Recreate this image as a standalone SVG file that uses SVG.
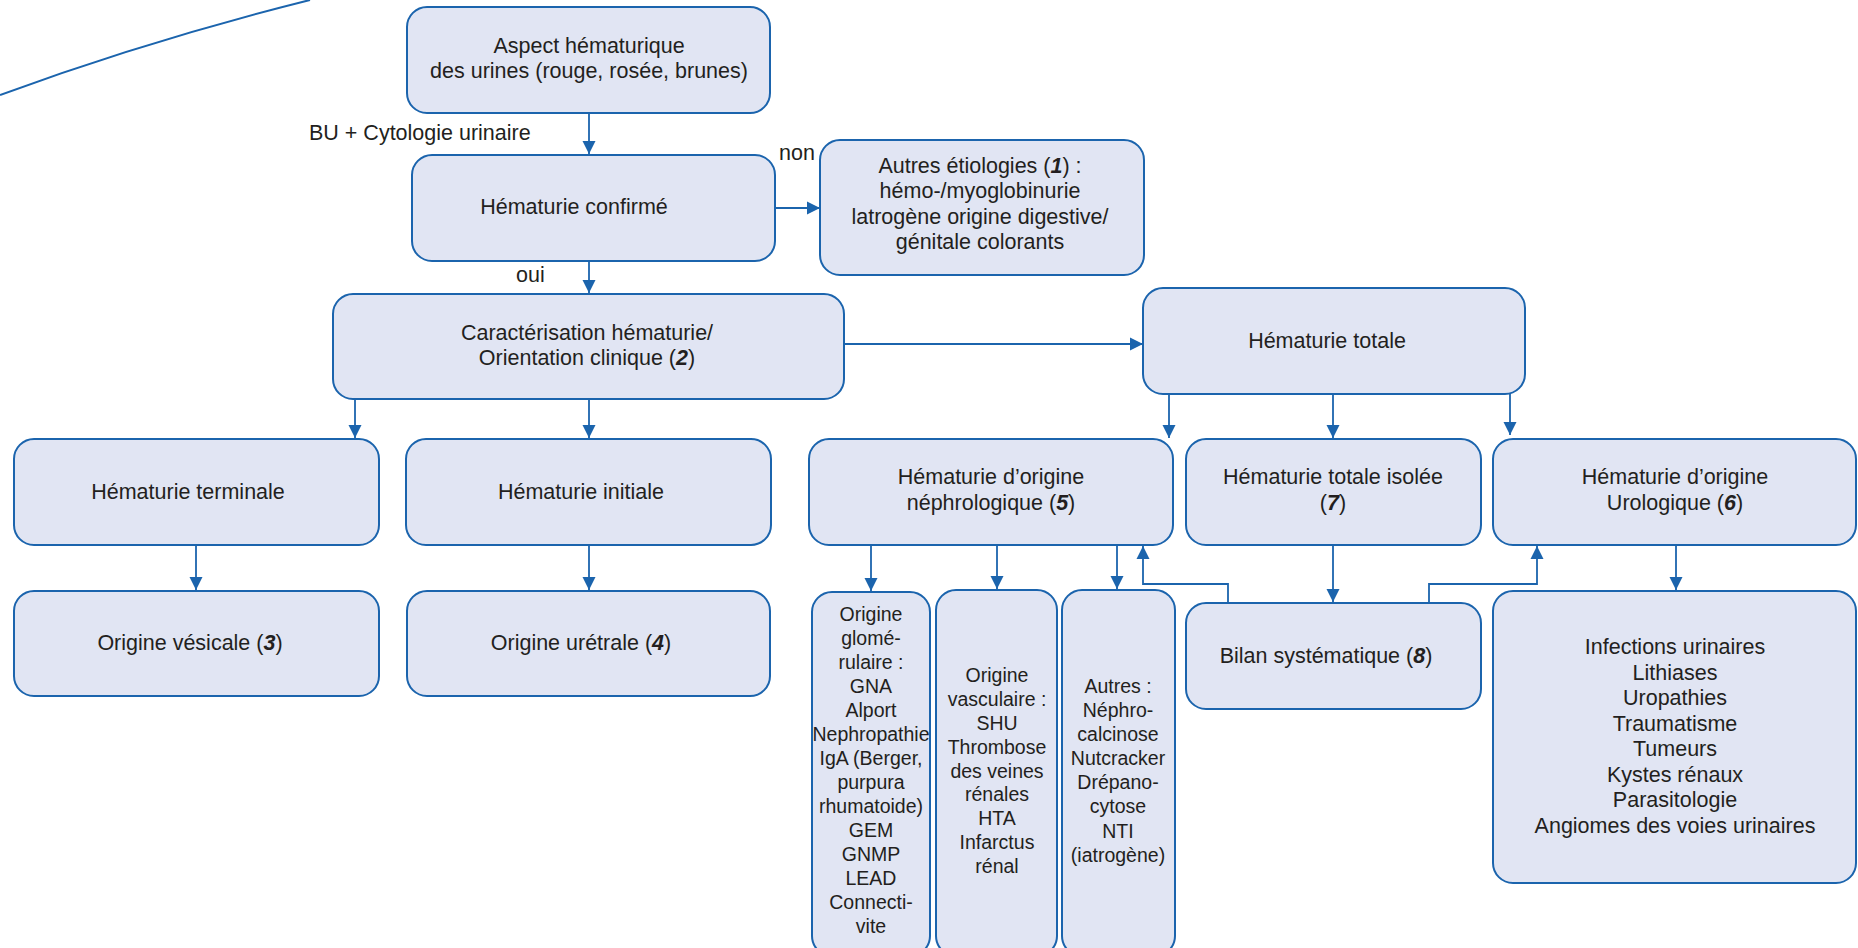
<svg xmlns="http://www.w3.org/2000/svg" width="1858" height="948" viewBox="0 0 1858 948">
  <style>
    .box { fill: #e1e5f3; stroke: #1b64ad; stroke-width: 2; }
    .t { font-family: "Liberation Sans", Arial, sans-serif; font-size: 21.5px; fill: #231f20; text-anchor: middle; }
    .s { font-family: "Liberation Sans", Arial, sans-serif; font-size: 19.5px; fill: #231f20; text-anchor: middle; }
    .lbl { font-family: "Liberation Sans", Arial, sans-serif; font-size: 21.5px; fill: #231f20; }
    .n { font-weight: bold; font-style: italic; }
    .link { fill: none; stroke: #1b64ad; stroke-width: 1.8; }
  </style>
  <defs>
    <marker id="arrow" markerUnits="userSpaceOnUse" markerWidth="14" markerHeight="14" viewBox="0 0 14 14" refX="13" refY="7" orient="auto">
      <path d="M0,0.5 L13,7 L0,13.5 Z" fill="#1b64ad"/>
    </marker>
  </defs>

  <rect width="1858" height="948" fill="#ffffff"/>

  <!-- decorative swoosh in the top-left corner -->
  <path d="M0,95 Q150,40 310,0" fill="none" stroke="#1b64ad" stroke-width="2"/>

  <!-- connectors -->
  <g id="connectors">
    <path class="link" d="M589,113 V154" marker-end="url(#arrow)"/>
    <path class="link" d="M589,261 V293" marker-end="url(#arrow)"/>
    <path class="link" d="M775,208 H820" marker-end="url(#arrow)"/>
    <path class="link" d="M844,344 H1143" marker-end="url(#arrow)"/>
    <path class="link" d="M355,399 V438" marker-end="url(#arrow)"/>
    <path class="link" d="M589,399 V438" marker-end="url(#arrow)"/>
    <path class="link" d="M1169,394 V438" marker-end="url(#arrow)"/>
    <path class="link" d="M1333,394 V438" marker-end="url(#arrow)"/>
    <path class="link" d="M1510,394 V435" marker-end="url(#arrow)"/>
    <path class="link" d="M196,545 V590" marker-end="url(#arrow)"/>
    <path class="link" d="M589,545 V590" marker-end="url(#arrow)"/>
    <path class="link" d="M871,545 V591" marker-end="url(#arrow)"/>
    <path class="link" d="M997,545 V589" marker-end="url(#arrow)"/>
    <path class="link" d="M1117,545 V589" marker-end="url(#arrow)"/>
    <path class="link" d="M1333,545 V602" marker-end="url(#arrow)"/>
    <path class="link" d="M1676,545 V590" marker-end="url(#arrow)"/>
    <path class="link" d="M1228,603 V584 H1143 V546" marker-end="url(#arrow)"/>
    <path class="link" d="M1429,603 V584 H1537 V546" marker-end="url(#arrow)"/>
  </g>

  <!-- edge labels -->
  <text class="lbl" x="309" y="140">BU + Cytologie urinaire</text>
  <text class="lbl" x="779" y="160">non</text>
  <text class="lbl" x="516" y="282">oui</text>

  <g id="aspect">
    <rect class="box" x="407" y="7" width="363" height="106" rx="20"/>
    <text class="t" x="589" y="53">Aspect hématurique</text>
    <text class="t" x="589" y="78">des urines (rouge, rosée, brunes)</text>
  </g>

  <g id="confirme">
    <rect class="box" x="412" y="155" width="363" height="106" rx="20"/>
    <text class="t" x="574" y="214">Hématurie confirmé</text>
  </g>

  <g id="autres-etiologies">
    <rect class="box" x="820" y="140" width="324" height="135" rx="20"/>
    <text class="t" x="980" y="173">Autres étiologies (<tspan class="n">1</tspan>) :</text>
    <text class="t" x="980" y="198">hémo-/myoglobinurie</text>
    <text class="t" x="980" y="224">latrogène origine digestive/</text>
    <text class="t" x="980" y="249">génitale colorants</text>
  </g>

  <g id="caracterisation">
    <rect class="box" x="333" y="294" width="511" height="105" rx="20"/>
    <text class="t" x="587" y="340">Caractérisation hématurie/</text>
    <text class="t" x="587" y="365">Orientation clinique (<tspan class="n">2</tspan>)</text>
  </g>

  <g id="totale">
    <rect class="box" x="1143" y="288" width="382" height="106" rx="20"/>
    <text class="t" x="1327" y="348">Hématurie totale</text>
  </g>

  <g id="terminale">
    <rect class="box" x="14" y="439" width="365" height="106" rx="20"/>
    <text class="t" x="188" y="499">Hématurie terminale</text>
  </g>

  <g id="initiale">
    <rect class="box" x="406" y="439" width="365" height="106" rx="20"/>
    <text class="t" x="581" y="499">Hématurie initiale</text>
  </g>

  <g id="nephrologique">
    <rect class="box" x="809" y="439" width="364" height="106" rx="20"/>
    <text class="t" x="991" y="484">Hématurie d’origine</text>
    <text class="t" x="991" y="510">néphrologique (<tspan class="n">5</tspan>)</text>
  </g>

  <g id="totale-isolee">
    <rect class="box" x="1186" y="439" width="295" height="106" rx="20"/>
    <text class="t" x="1333" y="484">Hématurie totale isolée</text>
    <text class="t" x="1333" y="510">(<tspan class="n">7</tspan>)</text>
  </g>

  <g id="urologique">
    <rect class="box" x="1493" y="439" width="363" height="106" rx="20"/>
    <text class="t" x="1675" y="484">Hématurie d’origine</text>
    <text class="t" x="1675" y="510">Urologique (<tspan class="n">6</tspan>)</text>
  </g>

  <g id="vesicale">
    <rect class="box" x="14" y="591" width="365" height="105" rx="20"/>
    <text class="t" x="190" y="650">Origine vésicale (<tspan class="n">3</tspan>)</text>
  </g>

  <g id="uretrale">
    <rect class="box" x="407" y="591" width="363" height="105" rx="20"/>
    <text class="t" x="581" y="650">Origine urétrale (<tspan class="n">4</tspan>)</text>
  </g>

  <g id="bilan">
    <rect class="box" x="1186" y="603" width="295" height="106" rx="20"/>
    <text class="t" x="1326" y="663">Bilan systématique (<tspan class="n">8</tspan>)</text>
  </g>

  <g id="causes-urologiques">
    <rect class="box" x="1493" y="591" width="363" height="292" rx="20"/>
    <text class="t" x="1675" y="654">Infections urinaires</text>
    <text class="t" x="1675" y="680">Lithiases</text>
    <text class="t" x="1675" y="705">Uropathies</text>
    <text class="t" x="1675" y="731">Traumatisme</text>
    <text class="t" x="1675" y="756">Tumeurs</text>
    <text class="t" x="1675" y="782">Kystes rénaux</text>
    <text class="t" x="1675" y="807">Parasitologie</text>
    <text class="t" x="1675" y="833">Angiomes des voies urinaires</text>
  </g>

  <g id="glomerulaire">
    <rect class="box" x="812" y="592" width="118" height="364" rx="20"/>
    <text class="s" x="871" y="621">Origine</text>
    <text class="s" x="871" y="645">glomé-</text>
    <text class="s" x="871" y="669">rulaire :</text>
    <text class="s" x="871" y="693">GNA</text>
    <text class="s" x="871" y="717">Alport</text>
    <text class="s" x="871" y="741">Nephropathie</text>
    <text class="s" x="871" y="765">IgA (Berger,</text>
    <text class="s" x="871" y="789">purpura</text>
    <text class="s" x="871" y="813">rhumatoide)</text>
    <text class="s" x="871" y="837">GEM</text>
    <text class="s" x="871" y="861">GNMP</text>
    <text class="s" x="871" y="885">LEAD</text>
    <text class="s" x="871" y="909">Connecti-</text>
    <text class="s" x="871" y="933">vite</text>
  </g>

  <g id="vasculaire">
    <rect class="box" x="936" y="590" width="121" height="366" rx="20"/>
    <text class="s" x="997" y="682">Origine</text>
    <text class="s" x="997" y="706">vasculaire :</text>
    <text class="s" x="997" y="730">SHU</text>
    <text class="s" x="997" y="754">Thrombose</text>
    <text class="s" x="997" y="778">des veines</text>
    <text class="s" x="997" y="801">rénales</text>
    <text class="s" x="997" y="825">HTA</text>
    <text class="s" x="997" y="849">Infarctus</text>
    <text class="s" x="997" y="873">rénal</text>
  </g>

  <g id="autres-nephro">
    <rect class="box" x="1062" y="590" width="113" height="366" rx="20"/>
    <text class="s" x="1118" y="693">Autres :</text>
    <text class="s" x="1118" y="717">Néphro-</text>
    <text class="s" x="1118" y="741">calcinose</text>
    <text class="s" x="1118" y="765">Nutcracker</text>
    <text class="s" x="1118" y="789">Drépano-</text>
    <text class="s" x="1118" y="813">cytose</text>
    <text class="s" x="1118" y="838">NTI</text>
    <text class="s" x="1118" y="862">(iatrogène)</text>
  </g>
</svg>
